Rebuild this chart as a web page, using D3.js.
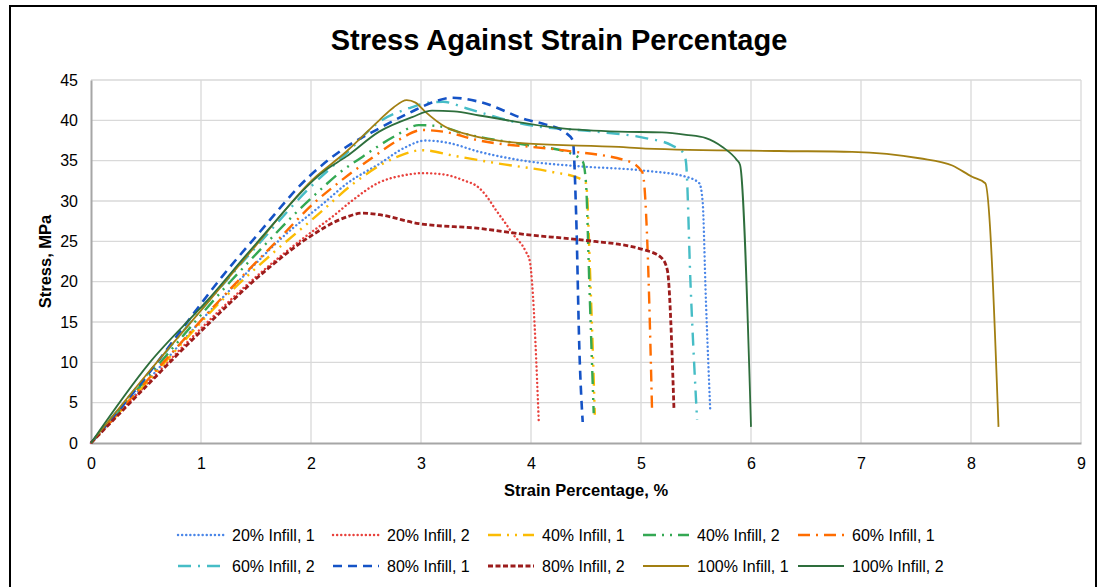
<!DOCTYPE html>
<html>
<head>
<meta charset="utf-8">
<script src="https://cdn.jsdelivr.net/npm/d3@7"></script>
<style>
  body { margin: 0; background: #fff; }
  svg { display: block; font-family: "Liberation Sans", Arial, sans-serif; }
</style>
</head>
<body>
<div id="viz"></div>
<script>
// strain (%) / stress (MPa) pairs
var infill20_1 = [[0,0],[0.5,7.5],[1.07,16.2],[1.38,20.6],[1.74,25.5],[2.13,29.9],[2.32,32.1],[2.62,34.6],[2.85,36.6],[3.04,37.5],[3.25,37.2],[3.53,36.1],[3.98,34.9],[4.44,34.3],[5.04,33.75],[5.41,33.0],[5.53,32.2],[5.56,30],[5.59,17.7],[5.63,3.9]];
var infill20_2 = [[0,0],[0.5,7.2],[1,14.2],[1.5,20.6],[1.98,25.9],[2.19,28.0],[2.36,29.9],[2.62,32.3],[2.85,33.2],[3.01,33.45],[3.2,33.3],[3.38,32.6],[3.53,31.6],[3.59,30.7],[3.68,28.9],[3.77,27.2],[3.83,26.0],[3.95,23.8],[3.99,22.5],[4.01,19.8],[4.07,2.85]];
var infill40_1 = [[0,0],[0.5,7.4],[1.28,18.9],[1.65,23.5],[2.07,28.4],[2.38,32.1],[2.77,35.4],[3.01,36.3],[3.3,35.6],[3.68,34.7],[4.19,33.6],[4.44,32.8],[4.5,32.2],[4.54,20],[4.58,3.5]];
var infill40_2 = [[0,0],[0.5,7.9],[1.28,20.2],[1.59,24.7],[1.89,28.9],[2.07,31.2],[2.25,33.4],[2.47,35.5],[2.77,38.1],[2.98,39.4],[3.15,39.3],[3.38,38.4],[3.98,36.9],[4.32,36.1],[4.47,34.9],[4.5,32.2],[4.53,19.8],[4.57,3.7]];
var infill60_1 = [[0,0],[0.5,7.6],[1.28,19.3],[1.68,24.9],[2.04,29.9],[2.3,32.8],[2.55,35.3],[2.8,37.6],[3.01,38.8],[3.2,38.6],[3.53,37.5],[4.28,36.3],[4.89,34.9],[5.01,33.6],[5.03,32],[5.06,23.9],[5.1,4.3]];
var infill60_2 = [[0,0],[0.5,8.3],[1,16.5],[1.5,24.3],[2,31.8],[2.3,35.6],[2.62,39.8],[2.89,41.5],[3.07,42.2],[3.2,42.3],[3.41,41.5],[3.98,39.4],[4.59,38.6],[5.04,37.8],[5.28,36.9],[5.39,35.9],[5.41,34.7],[5.45,19.8],[5.51,2.85]];
var infill80_1 = [[0,0],[0.5,8.2],[0.98,16.9],[1.19,20.6],[1.5,25.6],[1.98,33.0],[2.32,36.7],[2.62,39.0],[2.92,41.1],[3.1,42.2],[3.28,42.8],[3.53,42.3],[3.98,40.0],[4.13,39.5],[4.32,38.4],[4.38,37.5],[4.41,28.5],[4.44,11.5],[4.47,2.6]];
var infill80_2 = [[0,0],[0.5,7.0],[1.04,14.4],[1.59,21.4],[1.98,25.5],[2.3,27.9],[2.47,28.5],[2.62,28.3],[2.98,27.2],[3.53,26.6],[3.98,25.8],[4.44,25.2],[5.04,23.9],[5.19,22.9],[5.24,21.4],[5.3,4.1]];
var infill100_1 = [[0,0],[0.5,8.4],[1.06,17.4],[1.5,24.5],[2.01,32.6],[2.32,36.1],[2.62,40.0],[2.75,41.6],[2.87,42.5],[2.95,42.2],[3.04,41.05],[3.22,39.2],[3.44,38.2],[3.98,37.1],[4.8,36.7],[5.04,36.5],[6.25,36.2],[6.92,36.1],[7.53,35.3],[7.83,34.4],[8.01,33.0],[8.13,32.2],[8.25,2.0]];
var infill100_2 = [[0,0],[0.53,9.9],[1.06,17.7],[1.5,24.7],[2.13,33.8],[2.32,35.5],[2.62,38.6],[2.92,40.4],[3.1,41.2],[3.3,41.1],[3.53,40.6],[4.28,39.0],[4.8,38.6],[5.19,38.5],[5.41,38.2],[5.59,37.8],[5.74,36.7],[5.87,35.1],[5.9,34.5],[6.0,2.0]];

var seriesNames = ["20% Infill, 1","20% Infill, 2","40% Infill, 1","40% Infill, 2","60% Infill, 1",
                   "60% Infill, 2","80% Infill, 1","80% Infill, 2","100% Infill, 1","100% Infill, 2"];
var seriesData = [infill20_1, infill20_2, infill40_1, infill40_2, infill60_1,
                  infill60_2, infill80_1, infill80_2, infill100_1, infill100_2];
var xTicks = [0,1,2,3,4,5,6,7,8,9];
var yTicks = [0,5,10,15,20,25,30,35,40,45];

// line looks
var styles = [
  {color: "#4a86e8", dash: "0.1,4",         width: 2.4, cap: "round"},
  {color: "#e8413c", dash: "0.1,4",         width: 2.4, cap: "round"},
  {color: "#fbbc04", dash: "13,6,2,6,2,6",   width: 2.4, cap: "butt"},
  {color: "#34a853", dash: "13,6,2,6,2,6",   width: 2.4, cap: "butt"},
  {color: "#ff6d01", dash: "12,6,2,6",       width: 2.4, cap: "butt"},
  {color: "#46bdc6", dash: "13,7,2,7",       width: 2.4, cap: "butt"},
  {color: "#1553c6", dash: "9,6",            width: 2.6, cap: "butt"},
  {color: "#9c1c1c", dash: "5,2.5",          width: 2.8, cap: "butt"},
  {color: "#a27f12", dash: null,             width: 1.8, cap: "butt"},
  {color: "#2e6e3c", dash: null,             width: 1.8, cap: "butt"}
];

var width = 1101, height = 587;
var margin = {left: 91, right: 20, top: 80, bottom: 144};

var svg = d3.select("#viz").append("svg")
    .attr("width", width)
    .attr("height", height);

svg.append("rect")
    .attr("x", 0).attr("y", 0)
    .attr("width", width).attr("height", height)
    .style("fill", "white");

// chart frame
svg.append("rect")
    .attr("x", 10).attr("y", 6)
    .attr("width", 1086).attr("height", 600)
    .style("fill", "none")
    .style("stroke", "#000")
    .style("stroke-width", 2);

var x = d3.scaleLinear().domain([0, 9]).range([margin.left, width - margin.right]);
var y = d3.scaleLinear().domain([0, 45]).range([height - margin.bottom, margin.top]);

// grid
svg.append("g")
    .selectAll("line.v")
    .data(xTicks.slice(1))
    .enter().append("line")
    .attr("x1", function(d) { return x(d); })
    .attr("x2", function(d) { return x(d); })
    .attr("y1", y(0)).attr("y2", y(45))
    .style("stroke", "#d9d9d9").style("stroke-width", 1.3);

svg.append("g")
    .selectAll("line.h")
    .data(yTicks.slice(1))
    .enter().append("line")
    .attr("x1", x(0)).attr("x2", x(9))
    .attr("y1", function(d) { return y(d); })
    .attr("y2", function(d) { return y(d); })
    .style("stroke", "#d9d9d9").style("stroke-width", 1.3);

// axes
var xAxis = svg.append("g")
    .attr("transform", "translate(0," + y(0) + ")")
    .call(d3.axisBottom(x).tickValues(xTicks).tickSize(0).tickPadding(15).tickFormat(d3.format("d")));
var yAxis = svg.append("g")
    .attr("transform", "translate(" + x(0) + ",0)")
    .call(d3.axisLeft(y).tickValues(yTicks).tickSize(0).tickPadding(13).tickFormat(d3.format("d")));

[xAxis, yAxis].forEach(function(a) {
  a.select(".domain").style("stroke", "#a6a6a6").style("stroke-width", 2);
  a.selectAll("text")
    .style("font-family", "'Liberation Sans', Arial, sans-serif")
    .style("font-size", "16px")
    .style("fill", "#000");
});

// curves
var line = d3.line()
    .x(function(d) { return x(d[0]); })
    .y(function(d) { return y(d[1]); })
    .curve(d3.curveMonotoneX);

svg.append("g")
    .selectAll("path")
    .data(seriesData)
    .enter().append("path")
    .attr("d", line)
    .style("fill", "none")
    .style("stroke", function(d, i) { return styles[i].color; })
    .style("stroke-width", function(d, i) { return styles[i].width; })
    .style("stroke-dasharray", function(d, i) { return styles[i].dash; })
    .style("stroke-linecap", function(d, i) { return styles[i].cap; });

// titles
svg.append("text")
    .attr("x", 559).attr("y", 50)
    .attr("text-anchor", "middle")
    .style("font-size", "29px")
    .style("font-weight", "bold")
    .text("Stress Against Strain Percentage");

svg.append("text")
    .attr("x", (x(0) + x(9)) / 2).attr("y", 496)
    .attr("text-anchor", "middle")
    .style("font-size", "16.5px")
    .style("font-weight", "bold")
    .text("Strain Percentage, %");

svg.append("text")
    .attr("transform", "translate(51," + (y(0) + y(45)) / 2 + ") rotate(-90)")
    .attr("text-anchor", "middle")
    .style("font-size", "16.5px")
    .style("font-weight", "bold")
    .text("Stress, MPa");

// legend
var legend = svg.append("g")
    .selectAll("g")
    .data(seriesNames)
    .enter().append("g")
    .attr("transform", function(d, i) {
      return "translate(" + (178 + (i % 5) * 155) + "," + (535 + Math.floor(i / 5) * 31) + ")";
    });

legend.append("line")
    .attr("x1", 0).attr("x2", 46)
    .attr("y1", 0).attr("y2", 0)
    .style("stroke", function(d, i) { return styles[i].color; })
    .style("stroke-width", function(d, i) { return styles[i].width; })
    .style("stroke-dasharray", function(d, i) { return styles[i].dash; })
    .style("stroke-linecap", function(d, i) { return styles[i].cap; });

legend.append("text")
    .attr("x", 54).attr("y", 6)
    .style("font-size", "16px")
    .text(function(d) { return d; });
</script>
</body>
</html>
